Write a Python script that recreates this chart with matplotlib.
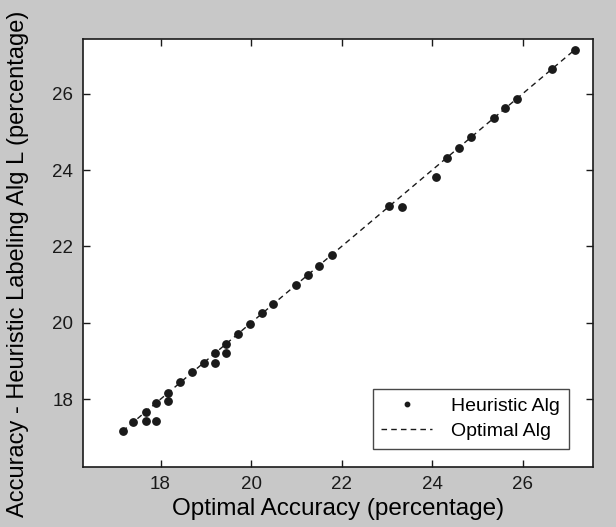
import matplotlib.pyplot as plt

plt.rcParams['font.family'] = ['Liberation Sans', 'DejaVu Sans']

# optimal accuracy (x) and heuristic accuracy (y)
optimal = [17.16, 17.39, 17.67, 17.67, 17.91, 17.91, 18.17, 18.17, 18.44, 18.70,
           18.96, 19.20, 19.20, 19.44, 19.44, 19.71, 19.97, 20.25, 20.49, 20.99,
           21.25, 21.50, 21.78, 23.05, 23.33, 24.08, 24.33, 24.59, 24.87, 25.37,
           25.62, 25.87, 26.66, 27.16]
heuristic = [17.16, 17.39, 17.67, 17.43, 17.91, 17.43, 18.17, 17.95, 18.44, 18.70,
             18.96, 19.20, 18.95, 19.44, 19.20, 19.71, 19.97, 20.25, 20.49, 20.99,
             21.25, 21.50, 21.78, 23.05, 23.04, 23.83, 24.33, 24.59, 24.87, 25.37,
             25.62, 25.87, 26.66, 27.16]

xticks = [18, 20, 22, 24, 26]
yticks = [18, 20, 22, 24, 26]

fig = plt.figure(figsize=(6.16, 5.27), dpi=100, facecolor='#c8c8c8')
ax = fig.add_axes([0.1343, 0.1144, 0.8279, 0.8112])

ax.plot(optimal, heuristic, linestyle='none', marker='o', markersize=5.3,
        color='#1a1a1a', label='Heuristic Alg')
line_x = [min(optimal), max(optimal)]
ax.plot(line_x, line_x, linestyle=(0, (4, 3)), linewidth=1.0, color='#1a1a1a',
        label='Optimal Alg')

ax.set_xlim(16.28, 27.55)
ax.set_ylim(16.23, 27.43)
ax.set_xticks(xticks)
ax.set_yticks(yticks)
ax.tick_params(direction='in', length=5, width=1, top=True, right=True,
               labelsize=13.5, pad=7, colors='#1a1a1a')
for s in ax.spines.values():
    s.set_linewidth(1.2)
    s.set_color('#1a1a1a')

ax.set_xlabel('Optimal Accuracy (percentage)', fontsize=17.5, labelpad=3)
ax.set_ylabel('Accuracy - Heuristic Labeling Alg L (percentage)', fontsize=17)
ax.yaxis.set_label_coords(-0.106, 0.475)

leg = ax.legend(loc='lower right', bbox_to_anchor=(0.9535, 0.0414), fontsize=14,
                frameon=True, fancybox=False, borderaxespad=0, handlelength=2.6,
                markerscale=0.6, borderpad=0.45, labelspacing=0.4,
                handletextpad=1.0)
leg.get_frame().set_edgecolor('#1a1a1a')
leg.get_frame().set_linewidth(1.0)

fig.savefig('out.png', dpi=100, facecolor=fig.get_facecolor())
